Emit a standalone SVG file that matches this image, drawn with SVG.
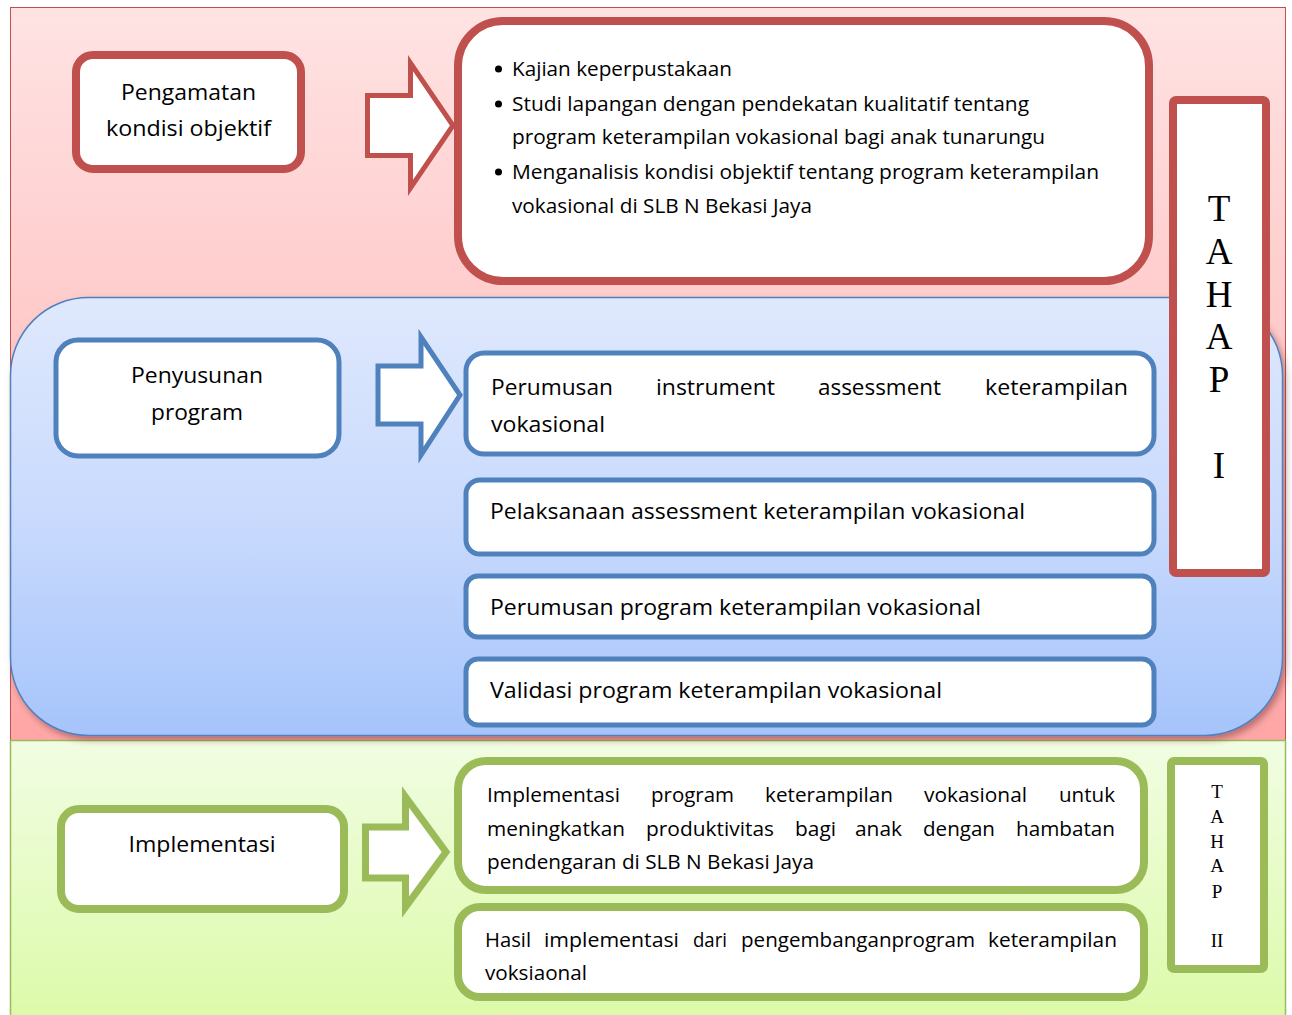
<svg xmlns="http://www.w3.org/2000/svg" width="1292" height="1015" viewBox="0 0 1292 1015">
<defs>
<linearGradient id="gPink" x1="0" y1="0" x2="0" y2="1">
<stop offset="0" stop-color="#ffe3e3"/><stop offset="0.4" stop-color="#ffcccc"/><stop offset="1" stop-color="#ffa6a6"/>
</linearGradient>
<linearGradient id="gBlue" x1="0" y1="0" x2="0" y2="1">
<stop offset="0" stop-color="#dfe9fd"/><stop offset="0.5" stop-color="#c9dafd"/><stop offset="1" stop-color="#a6c4fb"/>
</linearGradient>
<linearGradient id="gGreen" x1="0" y1="0" x2="0" y2="1">
<stop offset="0" stop-color="#f1fde3"/><stop offset="1" stop-color="#dcfaa9"/>
</linearGradient>
<filter id="sh" x="-5%" y="-5%" width="110%" height="115%">
<feDropShadow dx="3" dy="4" stdDeviation="3" flood-color="#6a2a2a" flood-opacity="0.45"/>
</filter>
<style>
.r{fill:#fff;stroke:#c0504d;stroke-width:8}
.b{fill:#fff;stroke:#4f81bd;stroke-width:5}
.g{fill:#fff;stroke:#9bbb59;stroke-width:8}
.t{font-family:"Open Sans","Noto Sans","DejaVu Sans",sans-serif;fill:#000}
.s{font-family:"Liberation Serif","Times New Roman",serif;fill:#000;text-anchor:middle}
</style>
</defs>

<g id="backgrounds">
<rect x="10.5" y="7.5" width="1275" height="733" fill="url(#gPink)" stroke="#c0504d" stroke-width="1"/>
<rect x="10.5" y="740.5" width="1275" height="280" fill="url(#gGreen)" stroke="#9bbb59" stroke-width="1.5"/>
<rect x="10.5" y="297.5" width="1272" height="438" rx="78" ry="78" fill="url(#gBlue)" stroke="#4f81bd" stroke-width="1.5" filter="url(#sh)"/>
</g>

<g id="connectors">
<path id="arrow-red" d="M367.5,95.5 H410.5 V63 L453,125.5 L410.5,188 V155.5 H367.5 Z" fill="#fff" stroke="#c0504d" stroke-width="5"/>
<path id="arrow-blue" d="M378,366 H421 V337 L460,395 L421,455 V424 H378 Z" fill="#fff" stroke="#4f81bd" stroke-width="5"/>
<path id="arrow-green" d="M365.5,827 H405.5 V797 L446,852 L405.5,907 V878 H365.5 Z" fill="#fff" stroke="#9bbb59" stroke-width="7"/>
</g>

<g id="node-pengamatan">
<rect class="r" x="76" y="55" width="225" height="114" rx="17"/>
<text class="t" x="188.5" y="99.5" font-size="21" text-anchor="middle" textLength="135" lengthAdjust="spacingAndGlyphs">Pengamatan</text>
<text class="t" x="188.5" y="136" font-size="21" text-anchor="middle" textLength="165" lengthAdjust="spacingAndGlyphs">kondisi objektif</text>
</g>

<g id="node-kajian">
<rect class="r" x="458" y="21" width="691" height="260" rx="45"/>
<circle cx="498.5" cy="69" r="3.5" fill="#000"/>
<circle cx="498.5" cy="104" r="3.5" fill="#000"/>
<circle cx="498.5" cy="172" r="3.5" fill="#000"/>
<text class="t" x="512" y="75.5" font-size="20" textLength="220" lengthAdjust="spacingAndGlyphs">Kajian keperpustakaan</text>
<text class="t" x="512" y="110.5" font-size="20" textLength="517" lengthAdjust="spacingAndGlyphs">Studi lapangan dengan pendekatan kualitatif tentang</text>
<text class="t" x="512" y="144" font-size="20" textLength="533" lengthAdjust="spacingAndGlyphs">program keterampilan vokasional bagi anak tunarungu</text>
<text class="t" x="512" y="178.5" font-size="20" textLength="587" lengthAdjust="spacingAndGlyphs">Menganalisis kondisi objektif tentang program keterampilan</text>
<text class="t" x="512" y="212.5" font-size="20" textLength="300" lengthAdjust="spacingAndGlyphs">vokasional di SLB N Bekasi Jaya</text>
</g>

<g id="node-tahap1">
<rect x="1173" y="100" width="93" height="473" rx="3" fill="#fff" stroke="#c0504d" stroke-width="8"/>
<text class="s" x="1219" y="221" font-size="37">T</text>
<text class="s" x="1219" y="264" font-size="37">A</text>
<text class="s" x="1219" y="307" font-size="37">H</text>
<text class="s" x="1219" y="349" font-size="37">A</text>
<text class="s" x="1219" y="392" font-size="37">P</text>
<text class="s" x="1219" y="478" font-size="37">I</text>
</g>

<g id="node-penyusunan">
<rect class="b" x="56" y="340" width="283" height="116" rx="22"/>
<text class="t" x="197" y="383" font-size="21" text-anchor="middle" textLength="132" lengthAdjust="spacingAndGlyphs">Penyusunan</text>
<text class="t" x="197" y="420" font-size="21" text-anchor="middle" textLength="92" lengthAdjust="spacingAndGlyphs">program</text>
</g>

<g id="node-perumusan-instrument">
<rect class="b" x="466" y="353" width="688" height="101" rx="18"/>
<text class="t" x="491" y="394.5" font-size="22" textLength="122" lengthAdjust="spacingAndGlyphs">Perumusan</text>
<text class="t" x="656" y="394.5" font-size="22" textLength="119" lengthAdjust="spacingAndGlyphs">instrument</text>
<text class="t" x="818" y="394.5" font-size="22" textLength="123" lengthAdjust="spacingAndGlyphs">assessment</text>
<text class="t" x="985" y="394.5" font-size="22" textLength="143" lengthAdjust="spacingAndGlyphs">keterampilan</text>
<text class="t" x="491" y="432" font-size="22" textLength="114" lengthAdjust="spacingAndGlyphs">vokasional</text>
</g>

<g id="node-pelaksanaan">
<rect class="b" x="466" y="480" width="688" height="74" rx="14"/>
<text class="t" x="490" y="519" font-size="22" textLength="535" lengthAdjust="spacingAndGlyphs">Pelaksanaan assessment keterampilan vokasional</text>
</g>

<g id="node-perumusan-program">
<rect class="b" x="466" y="576" width="688" height="61" rx="12"/>
<text class="t" x="490" y="615" font-size="22" textLength="491" lengthAdjust="spacingAndGlyphs">Perumusan program keterampilan vokasional</text>
</g>

<g id="node-validasi">
<rect class="b" x="466" y="659" width="688" height="66" rx="12"/>
<text class="t" x="490" y="698" font-size="22" textLength="452" lengthAdjust="spacingAndGlyphs">Validasi program keterampilan vokasional</text>
</g>

<g id="node-implementasi">
<rect class="g" x="61" y="809" width="283" height="100" rx="18"/>
<text class="t" x="202" y="851.5" font-size="21" text-anchor="middle" textLength="147" lengthAdjust="spacingAndGlyphs">Implementasi</text>
</g>

<g id="node-implementasi-program">
<rect class="g" x="458" y="761" width="686" height="129" rx="28"/>
<text class="t" x="487" y="802" font-size="20" textLength="133" lengthAdjust="spacingAndGlyphs">Implementasi</text>
<text class="t" x="651" y="802" font-size="20" textLength="83" lengthAdjust="spacingAndGlyphs">program</text>
<text class="t" x="765" y="802" font-size="20" textLength="128" lengthAdjust="spacingAndGlyphs">keterampilan</text>
<text class="t" x="924" y="802" font-size="20" textLength="103" lengthAdjust="spacingAndGlyphs">vokasional</text>
<text class="t" x="1059" y="802" font-size="20" textLength="56" lengthAdjust="spacingAndGlyphs">untuk</text>
<text class="t" x="487" y="835.5" font-size="20" textLength="138" lengthAdjust="spacingAndGlyphs">meningkatkan</text>
<text class="t" x="646" y="835.5" font-size="20" textLength="128" lengthAdjust="spacingAndGlyphs">produktivitas</text>
<text class="t" x="795" y="835.5" font-size="20" textLength="41" lengthAdjust="spacingAndGlyphs">bagi</text>
<text class="t" x="855" y="835.5" font-size="20" textLength="47" lengthAdjust="spacingAndGlyphs">anak</text>
<text class="t" x="923" y="835.5" font-size="20" textLength="72" lengthAdjust="spacingAndGlyphs">dengan</text>
<text class="t" x="1016" y="835.5" font-size="20" textLength="99" lengthAdjust="spacingAndGlyphs">hambatan</text>
<text class="t" x="487" y="869" font-size="20" textLength="327" lengthAdjust="spacingAndGlyphs">pendengaran di SLB N Bekasi Jaya</text>
</g>

<g id="node-hasil">
<rect class="g" x="458" y="907" width="686" height="90" rx="22"/>
<text class="t" x="485" y="947" font-size="20" textLength="46" lengthAdjust="spacingAndGlyphs">Hasil</text>
<text class="t" x="544" y="947" font-size="20" textLength="135" lengthAdjust="spacingAndGlyphs">implementasi</text>
<text class="t" x="693" y="947" font-size="20" textLength="34" lengthAdjust="spacingAndGlyphs">dari</text>
<text class="t" x="741" y="947" font-size="20" textLength="234" lengthAdjust="spacingAndGlyphs">pengembanganprogram</text>
<text class="t" x="988" y="947" font-size="20" textLength="129" lengthAdjust="spacingAndGlyphs">keterampilan</text>
<text class="t" x="485" y="980" font-size="20" textLength="102" lengthAdjust="spacingAndGlyphs">voksiaonal</text>
</g>

<g id="node-tahap2">
<rect x="1171" y="761" width="93" height="208" rx="3" fill="#fff" stroke="#9bbb59" stroke-width="8"/>
<text class="s" x="1217" y="798" font-size="19">T</text>
<text class="s" x="1217" y="823" font-size="19">A</text>
<text class="s" x="1217" y="848" font-size="19">H</text>
<text class="s" x="1217" y="872" font-size="19">A</text>
<text class="s" x="1217" y="898" font-size="19">P</text>
<text class="s" x="1217" y="947" font-size="19">II</text>
</g>
</svg>
